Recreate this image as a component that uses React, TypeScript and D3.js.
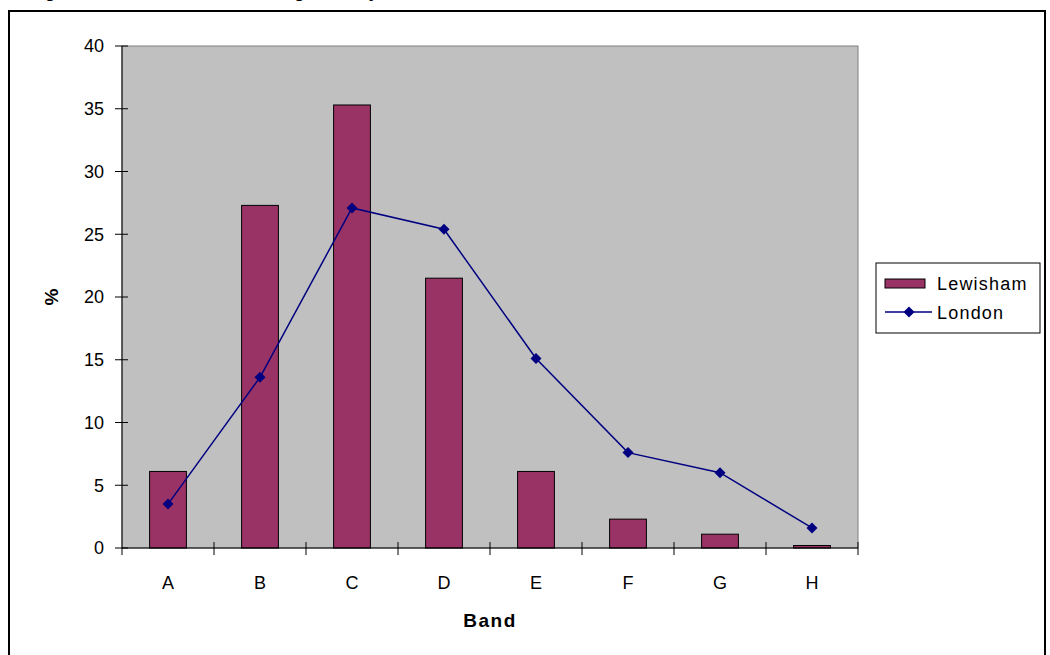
import React from "react";
import * as d3 from "d3";

const bands = ["A", "B", "C", "D", "E", "F", "G", "H"];
const lewisham = [6.1, 27.3, 35.3, 21.5, 6.1, 2.3, 1.1, 0.2];
const london = [3.5, 13.6, 27.1, 25.4, 15.1, 7.6, 6.0, 1.6];
const yTicks = [0, 5, 10, 15, 20, 25, 30, 35, 40];
const seriesNames = ["Lewisham", "London"];
const titleText = "Figure 3: Tax bands of all housing stock by";

const W = 1050;
const H = 655;
const plot = { left: 122, right: 858, top: 46, bottom: 548 };

export default function App() {
  const x = d3.scaleBand<string>().domain(bands).range([plot.left, plot.right]).paddingInner(0.6).paddingOuter(0.3);
  const xb = d3.scaleBand<string>().domain(bands).range([plot.left, plot.right]);
  const y = d3.scaleLinear().domain([0, 40]).range([plot.bottom, plot.top]);
  const line = d3
    .line<number>()
    .x((_, i) => (xb(bands[i]) as number) + xb.bandwidth() / 2)
    .y((d) => y(d));
  const font = "Arial, 'Liberation Sans', sans-serif";
  const diamond = (cx: number, cy: number, r: number) =>
    `M${cx},${cy - r}L${cx + r},${cy}L${cx},${cy + r}L${cx - r},${cy}Z`;

  return (
    <svg width={W} height={H} style={{ position: "absolute", left: 0, top: 0, background: "#fff" }} fontFamily={font}>
      <text x={30} y={-2} fontSize={17} fontWeight="bold" fill="#000">{titleText}</text>
      <rect x={9} y={11} width={1036} height={700} fill="#fff" stroke="#000" strokeWidth={2} />
      <rect x={plot.left} y={plot.top} width={plot.right - plot.left} height={plot.bottom - plot.top} fill="#C0C0C0" stroke="#808080" strokeWidth={1} />
      {lewisham.map((v, i) => (
        <rect key={i} x={x(bands[i])} y={y(v)} width={x.bandwidth()} height={y(0) - y(v)} fill="#993366" stroke="#000" strokeWidth={1} />
      ))}
      <line x1={plot.left} x2={plot.left} y1={plot.top} y2={plot.bottom} stroke="#000" />
      <line x1={plot.left} x2={plot.right} y1={plot.bottom} y2={plot.bottom} stroke="#000" />
      {yTicks.map((t) => (
        <g key={t}>
          <line x1={plot.left - 7} x2={plot.left + 6} y1={y(t)} y2={y(t)} stroke="#000" />
          <text x={104} y={y(t)} dy="0.35em" textAnchor="end" fontSize={18}>{t}</text>
        </g>
      ))}
      {bands.map((b, i) => (
        <g key={b}>
          <line x1={(xb(b) as number) + xb.bandwidth()} x2={(xb(b) as number) + xb.bandwidth()} y1={plot.bottom - 6} y2={plot.bottom + 7} stroke="#000" />
          <text x={(xb(b) as number) + xb.bandwidth() / 2} y={589} textAnchor="middle" fontSize={18}>{b}</text>
        </g>
      ))}
      <line x1={plot.left} x2={plot.left} y1={plot.bottom} y2={plot.bottom + 7} stroke="#000" />
      <path d={line(london) || ""} fill="none" stroke="#000080" strokeWidth={1.5} />
      {london.map((v, i) => (
        <path key={i} d={diamond((xb(bands[i]) as number) + xb.bandwidth() / 2, y(v), 5.5)} fill="#000080" />
      ))}
      <text x={(plot.left + plot.right) / 2} y={627} textAnchor="middle" fontSize={19} fontWeight="bold" letterSpacing={1.5}>Band</text>
      <text transform={`translate(58,${(plot.top + plot.bottom) / 2}) rotate(-90)`} textAnchor="middle" fontSize={19} fontWeight="bold">%</text>
      <rect x={876} y={263} width={164} height={70} fill="#fff" stroke="#000" strokeWidth={1} />
      <rect x={885} y={279} width={40} height={9} fill="#993366" stroke="#000" strokeWidth={1} />
      <text x={937} y={284} dy="0.35em" fontSize={18} letterSpacing={1.2}>{seriesNames[0]}</text>
      <line x1={885} x2={932} y1={312} y2={312} stroke="#000080" strokeWidth={1.5} />
      <path d={diamond(909, 312, 5.5)} fill="#000080" />
      <text x={937} y={313} dy="0.35em" fontSize={18} letterSpacing={1.2}>{seriesNames[1]}</text>
    </svg>
  );
}
